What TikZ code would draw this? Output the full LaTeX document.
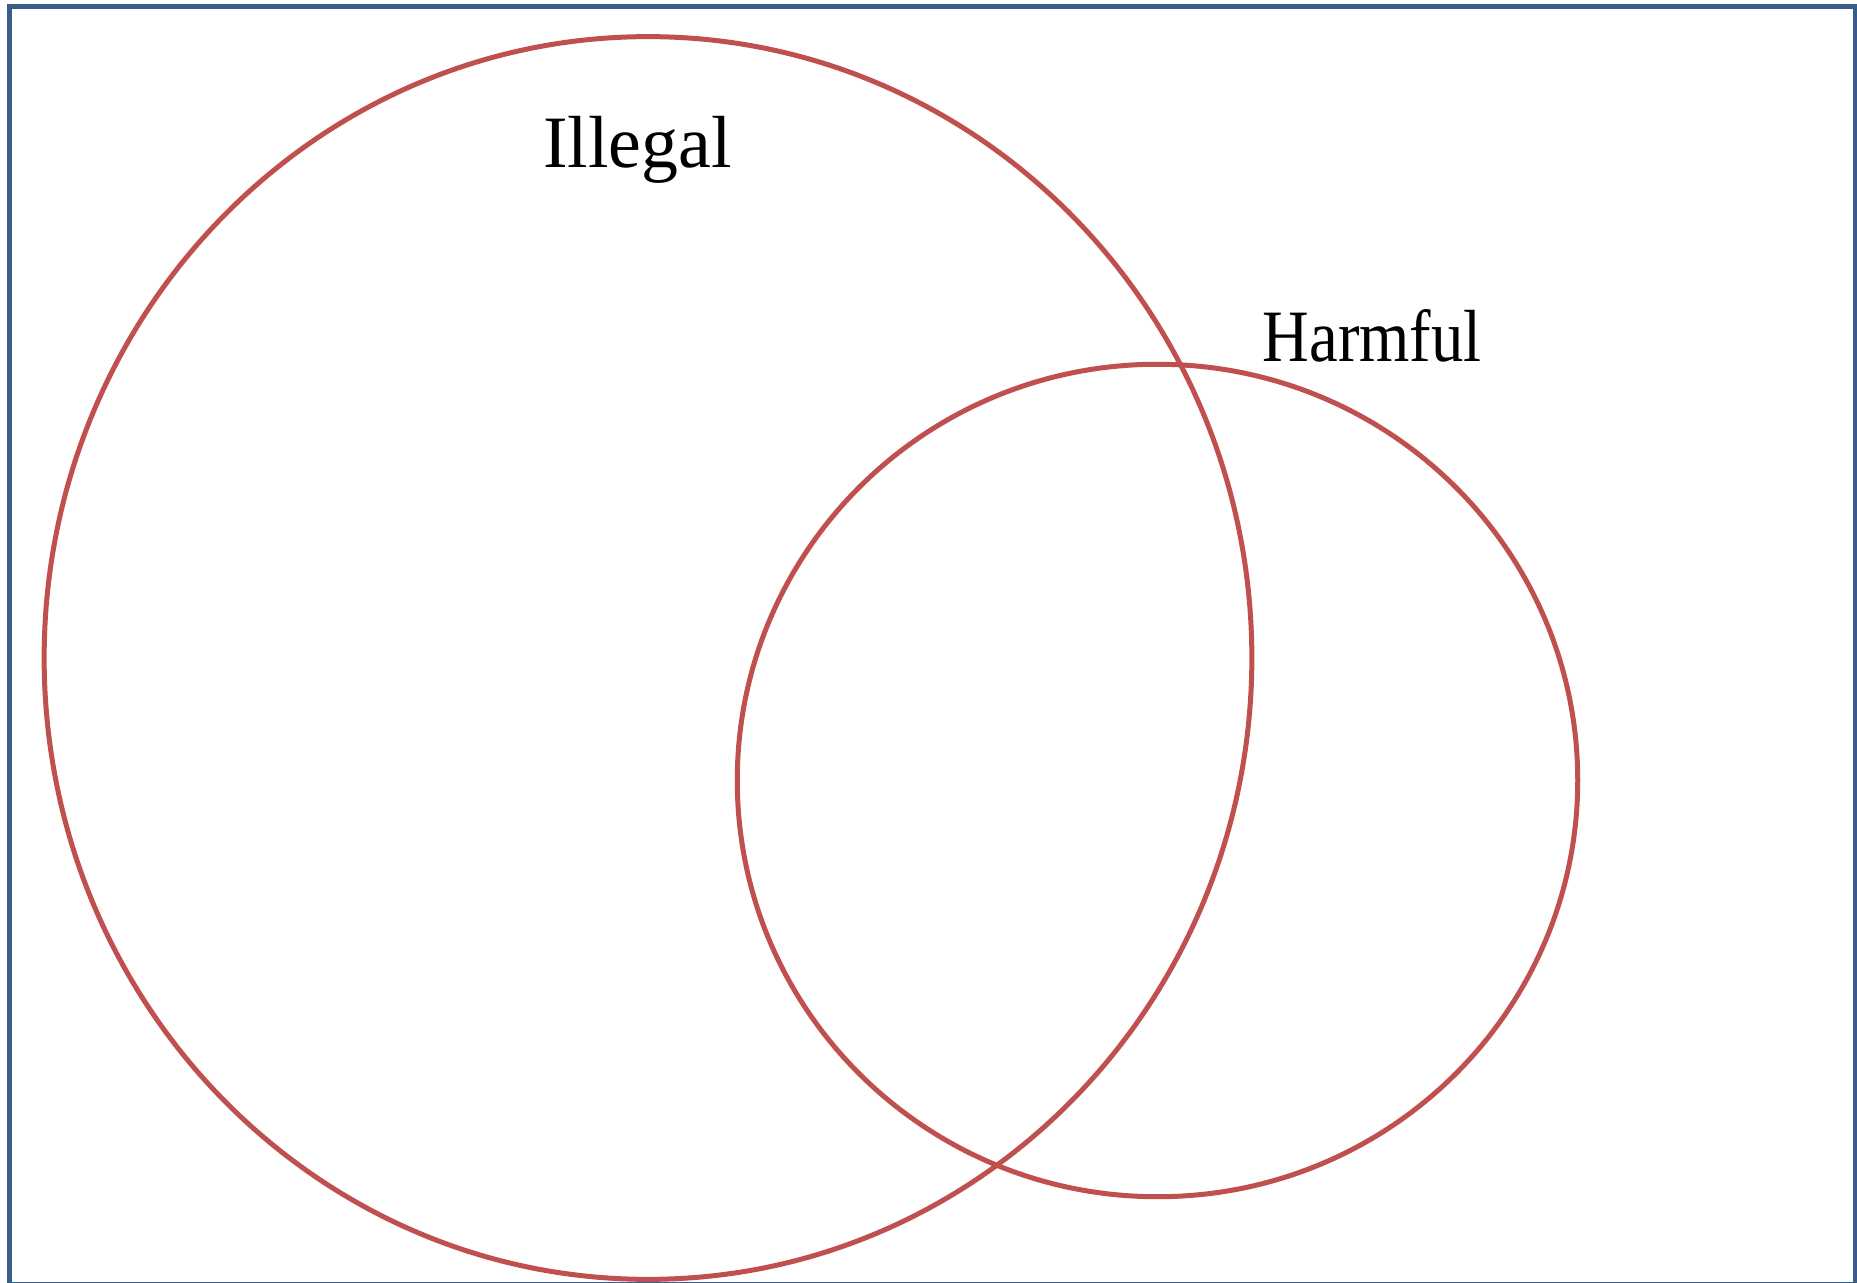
\documentclass[tikz,border=0pt]{standalone}
\usepackage{fontspec}
\setmainfont{Liberation Serif}
\newfontfamily\narrowserif[FakeStretch=0.875]{Liberation Serif}
\usepackage{tikz}
\usetikzlibrary{shapes.geometric}
\definecolor{setred}{HTML}{C0504D}
\definecolor{frameblue}{HTML}{385D8A}
\tikzset{
  frame/.style    = {draw=frameblue, line width=0.05cm},
  set/.style      = {draw=setred, line width=0.05cm, ellipse, inner sep=0pt},
  setlabel/.style = {inner sep=0pt, font=\fontsize{21}{25}\selectfont}
}

\begin{document}
\begin{tikzpicture}[x=0.01cm, y=-0.01cm]
\useasboundingbox (0,0) rectangle (1857,1283);

% Frame
\draw node [frame, rectangle, minimum width=18.45cm, minimum height=12.765cm,
  anchor=north west, inner sep=0pt, name=universe] at (7,4.5) {};

% Sets
\draw node [set, minimum width=12.07cm, minimum height=12.42cm] (illegal) at (648,658) {};
\draw node [set, minimum width=8.40cm, minimum height=8.32cm] (harmful) at (1157.5,780.5) {};

% Labels
\draw node [setlabel, anchor=base, name=illegalname] at (637.5,168) {Illegal};
\draw node [setlabel, anchor=base west, name=harmfulname] at (1262,362) {\narrowserif Harmful};

\end{tikzpicture}
\end{document}
